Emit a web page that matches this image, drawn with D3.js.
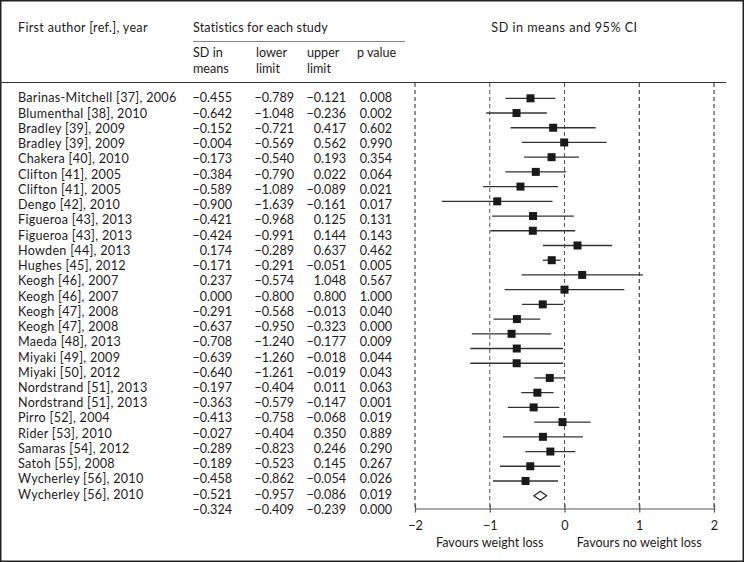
<!DOCTYPE html>
<html>
<head>
<meta charset="utf-8">
<script src="https://cdn.jsdelivr.net/npm/d3@7/dist/d3.min.js"></script>
<style>
  html, body { margin: 0; padding: 0; background: #fff; }
  svg { display: block; }
  text { font-family: Lato, "Open Sans", sans-serif; fill: #1e1b1c; }
</style>
</head>
<body>
<script>
// ---- Data ----
const authors = [
  "Barinas-Mitchell [37], 2006", "Blumenthal [38], 2010", "Bradley [39], 2009",
  "Bradley [39], 2009", "Chakera [40], 2010", "Clifton [41], 2005", "Clifton [41], 2005",
  "Dengo [42], 2010", "Figueroa [43], 2013", "Figueroa [43], 2013", "Howden [44], 2013",
  "Hughes [45], 2012", "Keogh [46], 2007", "Keogh [46], 2007", "Keogh [47], 2008",
  "Keogh [47], 2008", "Maeda [48], 2013", "Miyaki [49], 2009", "Miyaki [50], 2012",
  "Nordstrand [51], 2013", "Nordstrand [51], 2013", "Pirro [52], 2004", "Rider [53], 2010",
  "Samaras [54], 2012", "Satoh [55], 2008", "Wycherley [56], 2010", "Wycherley [56], 2010"
];
const sdMeans = [-0.455, -0.642, -0.152, -0.004, -0.173, -0.384, -0.589, -0.900, -0.421, -0.424,
  0.174, -0.171, 0.237, 0.000, -0.291, -0.637, -0.708, -0.639, -0.640, -0.197, -0.363, -0.413,
  -0.027, -0.289, -0.189, -0.458, -0.521];
const lowerLimits = [-0.789, -1.048, -0.721, -0.569, -0.540, -0.790, -1.089, -1.639, -0.968, -0.991,
  -0.289, -0.291, -0.574, -0.800, -0.568, -0.950, -1.240, -1.260, -1.261, -0.404, -0.579, -0.758,
  -0.404, -0.823, -0.523, -0.862, -0.957];
const upperLimits = [-0.121, -0.236, 0.417, 0.562, 0.193, 0.022, -0.089, -0.161, 0.125, 0.144,
  0.637, -0.051, 1.048, 0.800, -0.013, -0.323, -0.177, -0.018, -0.019, 0.011, -0.147, -0.068,
  0.350, 0.246, 0.145, -0.054, -0.086];
const pValues = [0.008, 0.002, 0.602, 0.990, 0.354, 0.064, 0.021, 0.017, 0.131, 0.143,
  0.462, 0.005, 0.567, 1.000, 0.040, 0.000, 0.009, 0.044, 0.043, 0.063, 0.001, 0.019,
  0.889, 0.290, 0.267, 0.026, 0.019];
const summaryValues = [-0.324, -0.409, -0.239, 0.000]; // mean, lower, upper, p
const xTicks = [-2, -1, 0, 1, 2];
const columnHeaders = [["SD in", "means"], ["lower", "limit"], ["upper", "limit"], ["p value"]];

// ---- Layout ----
const W = 744, H = 562;
const svg = d3.select("body").append("svg").attr("width", W).attr("height", H);
const FS = 12.6;

svg.append("rect").attr("x", 0.75).attr("y", 0.75).attr("width", W - 1.5).attr("height", H - 1.5)
  .attr("fill", "#fff").attr("stroke", "#222").attr("stroke-width", 1.5);

const nRows = authors.length + 1;
const idx = d3.range(nRows);
const yText = d3.scalePoint().domain(idx).range([98, 509.5]);
const yPlot = d3.scalePoint().domain(idx).range([98.3, 495.7]);
const x = d3.scaleLinear().domain([-2, 2]).range([415, 714]);

const fmt = v => d3.format(".3f")(v).replace("-", "\u2212");

// header
svg.append("text").attr("x", 18).attr("y", 28).attr("dy", "0.35em").attr("font-size", FS)
  .attr("letter-spacing", 0.3).text("First author [ref.], year");
svg.append("text").attr("x", 193).attr("y", 28).attr("dy", "0.35em").attr("font-size", FS)
  .attr("letter-spacing", 0.15).text("Statistics for each study");
svg.append("line").attr("x1", 193).attr("x2", 405).attr("y1", 41.5).attr("y2", 41.5)
  .attr("stroke", "#888").attr("stroke-width", 1);
svg.append("text").attr("x", x(0)).attr("y", 28).attr("dy", "0.35em").attr("font-size", FS)
  .attr("letter-spacing", 0.5).attr("text-anchor", "middle").text("SD in means and 95% CI");

const headX = [193, 256, 307, 357];
columnHeaders.forEach((lines, i) => {
  lines.forEach((t, j) => {
    svg.append("text").attr("x", headX[i]).attr("y", 52.5 + j * 16).attr("dy", "0.35em")
      .attr("font-size", FS).text(t);
  });
});
svg.append("line").attr("x1", 0).attr("x2", 726).attr("y1", 82.5).attr("y2", 82.5)
  .attr("stroke", "#333").attr("stroke-width", 1);

// table rows
const rows = authors.map((a, i) => ({ name: a, m: sdMeans[i], lo: lowerLimits[i], hi: upperLimits[i], p: pValues[i] }));
rows.push({ name: "", m: summaryValues[0], lo: summaryValues[1], hi: summaryValues[2], p: summaryValues[3] });
const colRight = [232, 294, 346, 392];

const g = svg.append("g");
rows.forEach((r, i) => {
  const y = yText(i);
  if (r.name) g.append("text").attr("x", 18).attr("y", y).attr("dy", "0.35em").attr("font-size", FS)
    .attr("letter-spacing", 0.28).text(r.name);
  [r.m, r.lo, r.hi, r.p].forEach((v, k) => {
    g.append("text").attr("x", colRight[k]).attr("y", y).attr("dy", "0.35em").attr("font-size", FS)
      .attr("text-anchor", "end").text(fmt(v));
  });
});

// dashed reference lines
const axisY = 508.5;
svg.append("g").selectAll("line").data(xTicks).join("line")
  .attr("x1", d => x(d)).attr("x2", d => x(d)).attr("y1", 83).attr("y2", axisY)
  .attr("stroke", d => (d === -1 || d === 0) ? "#555" : "#222")
  .attr("stroke-width", 1).attr("stroke-dasharray", "4,3");

// CI lines and squares
const study = rows.slice(0, authors.length);
svg.append("g").selectAll("line").data(study).join("line")
  .attr("x1", d => x(d.lo)).attr("x2", d => x(d.hi))
  .attr("y1", (d, i) => yPlot(i)).attr("y2", (d, i) => yPlot(i))
  .attr("stroke", "#333").attr("stroke-width", 1.3);
const sq = 8;
svg.append("g").selectAll("rect").data(study).join("rect")
  .attr("x", d => x(d.m) - sq / 2).attr("y", (d, i) => yPlot(i) - sq / 2)
  .attr("width", sq).attr("height", sq).attr("fill", "#1a1a1a");

// summary diamond
const s = rows[nRows - 1];
const sy = yPlot(nRows - 1);
svg.append("path")
  .attr("d", `M${x(s.lo)},${sy} L${x(s.m)},${sy - 4.5} L${x(s.hi)},${sy} L${x(s.m)},${sy + 4.5} Z`)
  .attr("fill", "#fff").attr("stroke", "#222").attr("stroke-width", 1.2);

// axis
const axis = d3.axisBottom(x).tickValues(xTicks).tickFormat(d3.format("d"))
  .tickSizeInner(4).tickSizeOuter(0).tickPadding(8);
const ax = svg.append("g").attr("transform", `translate(0,${axisY})`).call(axis);
ax.select(".domain").attr("stroke", "#555").attr("stroke-width", 1.2);
ax.selectAll(".tick line").attr("y1", -4).attr("y2", 4).attr("stroke", "#555").attr("stroke-width", 1.2);
ax.selectAll(".tick text").attr("font-size", FS).attr("font-family", "Lato, 'Open Sans', sans-serif")
  .attr("fill", "#1e1b1c").attr("y", 17.5).attr("dy", "0.35em");

svg.append("text").attr("x", x(-1)).attr("y", 543).attr("dy", "0.35em").attr("font-size", FS)
  .attr("text-anchor", "middle").text("Favours weight loss");
svg.append("text").attr("x", x(1)).attr("y", 543).attr("dy", "0.35em").attr("font-size", FS)
  .attr("text-anchor", "middle").text("Favours no weight loss");
</script>
</body>
</html>
